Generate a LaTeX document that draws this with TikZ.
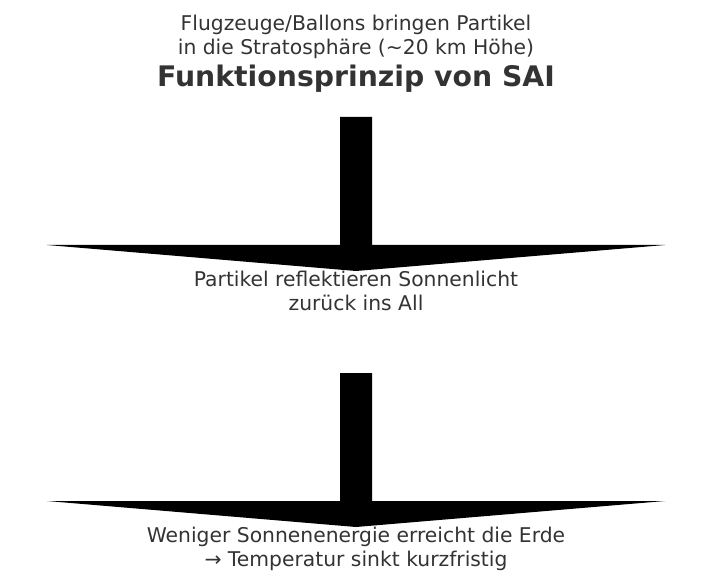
\documentclass[tikz,border=0pt]{standalone}
\usepackage{fontspec}
\setmainfont{DejaVu Sans}
\usetikzlibrary{positioning}
\definecolor{textgray}{HTML}{333333}

\begin{document}
\begin{tikzpicture}[x = 1pt, y = -1pt,
    txt/.style={text=textgray, align=center, inner sep=0pt, anchor=base, font=\fontsize{20.3}{24}\selectfont},
    titletxt/.style={text=textgray, inner sep=0pt, anchor=base, font=\bfseries\fontsize{28.3}{32}\selectfont},
    bigarrow/.style={fill=black}]
    \useasboundingbox (0,0) rectangle (709,585);
    % arrows
    \fill[bigarrow] (340,117) -- (372,117) -- (372,245) -- (665,245) -- (356,271) -- (47,245) -- (340,245) -- cycle;
    \fill[bigarrow] (340,373) -- (372,373) -- (372,501) -- (665,501) -- (356,527) -- (47,501) -- (340,501) -- cycle;
    % texts (base = last line)
    \node[txt] (start) at (356,55) {Flugzeuge/Ballons bringen Partikel\\in die Stratosphäre (\textasciitilde20 km Höhe)};
    \node[titletxt] (title) at (356,87) {Funktionsprinzip von SAI};
    \node[txt] (reflect) at (356,310) {Partikel reflektieren Sonnenlicht\\zurück ins All};
    \node[txt] (result) at (356,566) {Weniger Sonnenenergie erreicht die Erde\\→ Temperatur sinkt kurzfristig};
\end{tikzpicture}
\end{document}
